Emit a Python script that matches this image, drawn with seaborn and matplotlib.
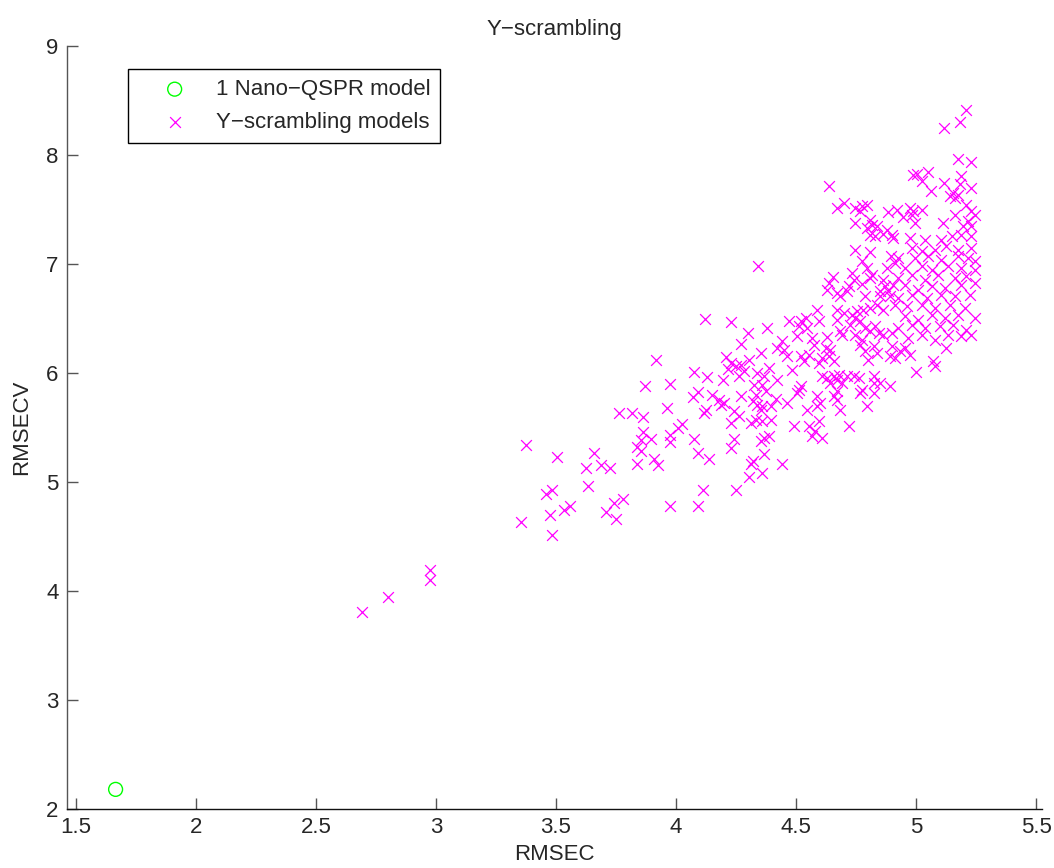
import matplotlib
matplotlib.use("Agg")
import matplotlib.pyplot as plt
import seaborn as sns
import pandas as pd

# ---- data (RMSEC, RMSECV) ----
model_rmsec = [1.665]
model_rmsecv = [2.18]

low_region = [
    (3.375, 5.335), (3.503, 5.228), (3.458, 4.886), (3.485, 4.925), (3.356, 4.636),
    (3.474, 4.700), (3.532, 4.742), (3.557, 4.782), (3.484, 4.517), (2.977, 4.192),
    (2.977, 4.101), (2.802, 3.942), (2.691, 3.805),
]

mid_region = [
    (4.121, 6.495), (4.230, 6.471), (3.916, 6.123), (4.074, 6.007), (4.130, 5.961),
    (3.872, 5.882), (3.974, 5.900), (4.195, 5.940), (4.208, 6.144), (4.229, 6.092),
    (4.215, 6.037), (4.249, 6.062), (4.070, 5.781), (4.090, 5.824), (4.148, 5.799),
    (4.180, 5.756), (4.187, 5.710), (4.201, 5.726), (3.761, 5.637), (3.817, 5.637),
    (3.864, 5.598), (3.963, 5.680), (4.118, 5.634), (4.125, 5.665), (4.242, 5.650),
    (4.228, 5.543), (4.024, 5.530), (4.010, 5.494), (3.861, 5.457), (3.897, 5.396),
    (3.855, 5.381), (3.974, 5.430), (3.974, 5.365), (3.836, 5.323), (3.853, 5.283),
    (4.074, 5.393), (4.242, 5.396), (4.231, 5.314), (4.093, 5.268), (4.139, 5.207),
    (3.659, 5.268), (3.623, 5.124), (3.687, 5.152), (3.724, 5.124), (3.836, 5.167),
    (3.908, 5.207), (3.927, 5.152), (3.632, 4.962), (4.304, 5.048), (4.111, 4.923),
    (4.251, 4.923), (3.742, 4.810), (3.779, 4.846), (3.708, 4.727), (3.752, 4.657),
    (3.974, 4.779), (4.093, 4.779),
]

upper_mid_region = [
    (4.638, 7.720), (4.342, 6.984), (4.671, 7.513), (4.701, 7.559), (4.747, 7.513),
    (4.775, 7.534), (4.795, 7.543), (4.768, 7.482), (4.885, 7.476), (4.747, 7.375),
    (4.809, 7.406), (4.816, 7.360), (4.795, 7.330), (4.837, 7.345), (4.809, 7.268),
    (4.830, 7.253), (4.864, 7.278), (4.878, 7.314), (4.899, 7.268), (4.906, 7.238),
    (4.747, 7.131), (4.809, 7.107), (4.775, 7.024), (4.895, 7.070), (4.913, 7.009),
    (4.795, 6.963), (4.878, 6.963), (4.816, 6.902), (4.809, 6.871), (4.733, 6.917),
    (4.740, 6.856), (4.654, 6.881), (4.636, 6.826), (4.630, 6.765), (4.671, 6.734),
    (4.685, 6.703), (4.719, 6.795), (4.712, 6.749), (4.775, 6.819), (4.864, 6.856),
    (4.871, 6.795), (4.851, 6.749), (4.885, 6.749), (4.906, 6.810), (4.788, 6.703),
    (4.851, 6.703), (4.892, 6.703),
]

central_region = [
    (4.588, 6.581), (4.671, 6.581), (4.699, 6.551), (4.733, 6.535), (4.754, 6.566),
    (4.781, 6.581), (4.809, 6.596), (4.837, 6.627), (4.864, 6.581), (4.471, 6.480),
    (4.519, 6.480), (4.540, 6.505), (4.512, 6.428), (4.547, 6.413), (4.595, 6.480),
    (4.378, 6.413), (4.298, 6.367), (4.671, 6.489), (4.685, 6.383), (4.726, 6.444),
    (4.747, 6.505), (4.768, 6.474), (4.505, 6.337), (4.567, 6.321), (4.574, 6.260),
    (4.630, 6.327), (4.623, 6.230), (4.692, 6.352), (4.747, 6.352), (4.775, 6.306),
    (4.788, 6.413), (4.809, 6.383), (4.830, 6.428), (4.844, 6.367), (4.864, 6.352),
    (4.768, 6.260), (4.788, 6.199), (4.823, 6.245), (4.837, 6.184), (4.802, 6.123),
    (4.899, 6.367), (4.899, 6.245), (4.892, 6.154), (4.913, 6.138), (4.270, 6.266),
    (4.443, 6.291), (4.422, 6.230), (4.450, 6.215), (4.464, 6.153), (4.353, 6.184),
    (4.305, 6.123), (4.270, 6.077), (4.284, 6.016), (4.263, 5.970), (4.519, 6.153),
    (4.554, 6.169), (4.533, 6.108), (4.484, 6.031), (4.595, 6.092), (4.609, 6.138),
    (4.637, 6.153), (4.657, 6.108), (4.643, 6.215), (4.388, 6.047), (4.339, 6.001),
    (4.367, 5.970), (4.326, 5.894), (4.360, 5.894), (4.374, 5.833), (4.333, 5.802),
    (4.422, 5.940), (4.512, 5.848), (4.519, 5.879), (4.505, 5.818), (4.609, 5.970),
    (4.630, 5.955), (4.643, 5.909), (4.657, 5.970), (4.678, 5.986), (4.671, 5.940),
    (4.692, 5.909), (4.712, 5.970), (4.740, 5.970), (4.761, 5.955), (4.775, 5.848),
    (4.768, 5.818), (4.823, 5.970), (4.823, 5.909), (4.851, 5.909), (4.823, 5.818),
    (4.892, 5.879), (4.671, 5.833), (4.657, 5.787), (4.671, 5.756), (4.588, 5.787),
    (4.602, 5.726), (4.588, 5.695), (4.270, 5.787), (4.319, 5.741), (4.339, 5.711),
    (4.360, 5.695), (4.353, 5.665), (4.395, 5.695), (4.415, 5.757), (4.464, 5.726),
    (4.547, 5.656), (4.685, 5.656), (4.795, 5.695), (4.263, 5.604), (4.312, 5.543),
    (4.333, 5.573), (4.360, 5.558), (4.395, 5.573), (4.491, 5.512), (4.554, 5.512),
    (4.595, 5.558), (4.581, 5.466), (4.609, 5.405), (4.567, 5.421), (4.719, 5.512),
    (4.367, 5.405), (4.388, 5.421), (4.353, 5.375), (4.367, 5.253), (4.319, 5.191),
    (4.312, 5.161), (4.443, 5.167), (4.360, 5.085),
]

top_right_region = [
    (5.210, 8.414), (5.182, 8.307), (5.117, 8.246), (5.173, 7.965), (5.228, 7.940),
    (4.989, 7.818), (5.003, 7.824), (5.051, 7.842), (5.023, 7.763), (5.062, 7.671),
    (5.117, 7.742), (5.189, 7.803), (5.182, 7.733), (5.228, 7.696), (5.155, 7.650),
    (5.175, 7.635), (5.141, 7.620), (5.162, 7.604), (5.210, 7.537), (5.231, 7.482),
    (5.244, 7.452), (5.162, 7.452), (4.920, 7.497), (4.975, 7.513), (4.989, 7.482),
    (4.982, 7.452), (5.023, 7.497), (4.947, 7.427), (4.996, 7.375), (5.113, 7.375),
    (5.217, 7.390), (5.196, 7.345), (5.231, 7.345),
]

dense_right_region = [
    (4.975, 7.238), (5.037, 7.223), (5.106, 7.223), (5.148, 7.253), (5.189, 7.268),
    (5.231, 7.253), (4.982, 7.146), (5.023, 7.116), (5.079, 7.131), (5.127, 7.161),
    (5.175, 7.131), (5.231, 7.146), (4.927, 7.055), (4.996, 7.055), (5.051, 7.070),
    (5.106, 7.039), (5.175, 7.070), (5.217, 7.055), (5.244, 7.024), (4.954, 6.963),
    (5.023, 6.978), (5.065, 6.948), (5.134, 6.978), (5.189, 6.963), (5.244, 6.948),
    (4.927, 6.871), (4.982, 6.902), (5.037, 6.856), (5.092, 6.902), (5.162, 6.871),
    (5.210, 6.887), (4.954, 6.810), (5.010, 6.764), (5.065, 6.795), (5.120, 6.780),
    (5.189, 6.810), (5.244, 6.826), (4.927, 6.688), (4.982, 6.719), (5.044, 6.688),
    (5.106, 6.719), (5.162, 6.703), (5.224, 6.719), (4.913, 6.627), (4.961, 6.612),
    (5.023, 6.627), (5.079, 6.597), (5.141, 6.627), (5.203, 6.597), (4.954, 6.520),
    (5.010, 6.490), (5.065, 6.535), (5.120, 6.505), (5.175, 6.535), (5.244, 6.505),
    (4.927, 6.413), (4.982, 6.444), (5.037, 6.413), (5.099, 6.429), (5.155, 6.444),
    (5.210, 6.398), (4.968, 6.322), (5.023, 6.352), (5.079, 6.306), (5.134, 6.352),
    (5.189, 6.337), (5.231, 6.352), (4.934, 6.199), (4.954, 6.230), (4.975, 6.169),
    (5.127, 6.230), (5.072, 6.107), (5.079, 6.062), (4.998, 6.007),
]

x_ticks = [1.5, 2, 2.5, 3, 3.5, 4, 4.5, 5, 5.5]
y_ticks = [2, 3, 4, 5, 6, 7, 8, 9]
x_tick_labels = ["1.5", "2", "2.5", "3", "3.5", "4", "4.5", "5", "5.5"]
y_tick_labels = ["2", "3", "4", "5", "6", "7", "8", "9"]

regions = [low_region, mid_region, upper_mid_region, central_region,
           top_right_region, dense_right_region]
scr = pd.DataFrame([p for r in regions for p in r], columns=["RMSEC", "RMSECV"])
mod = pd.DataFrame({"RMSEC": model_rmsec, "RMSECV": model_rmsecv})

# ---- style ----
sns.set_style("ticks")
plt.rcParams["font.family"] = ["Liberation Sans", "DejaVu Sans"]
FS = 16
plt.rcParams["font.size"] = FS

fig = plt.figure(figsize=(10.54, 8.68), dpi=100)
ax = fig.add_axes([67 / 1054, 1 - 809 / 868, (1042 - 67) / 1054, (809 - 46) / 868])

sns.scatterplot(data=mod, x="RMSEC", y="RMSECV", ax=ax, marker="o",
                s=100, facecolors="none", edgecolor="#00ff00", linewidth=1.0,
                label="1 Nano\u2212QSPR model", zorder=3)
sns.scatterplot(data=scr, x="RMSEC", y="RMSECV", ax=ax, marker="x",
                s=60, color="#ff00ff", linewidth=0.9,
                label="Y\u2212scrambling models", zorder=2)

ax.set_xlim(1.4625, 5.525)
ax.set_ylim(2, 9)
ax.set_xticks(x_ticks)
ax.set_xticklabels(x_tick_labels)
ax.set_yticks(y_ticks)
ax.set_yticklabels(y_tick_labels)
ax.tick_params(direction="in", length=8, width=1, color="#555555",
               labelsize=FS, pad=6)
for side in ["top", "right"]:
    ax.spines[side].set_visible(False)
ax.spines["left"].set_linewidth(1.0)
ax.spines["left"].set_color("#555555")
ax.spines["bottom"].set_linewidth(1.0)
ax.spines["bottom"].set_color("#111111")

ax.set_xlabel("RMSEC", fontsize=FS, labelpad=4)
ax.set_ylabel("RMSECV", fontsize=FS, labelpad=10)
ax.set_title("Y\u2212scrambling", fontsize=FS, pad=8)

leg = ax.legend(loc="upper left", bbox_to_anchor=(61 / 975, (809 - 69) / 763),
                borderaxespad=0, fancybox=False, framealpha=1, edgecolor="black",
                fontsize=FS, handletextpad=0.2, borderpad=0.45, labelspacing=0.55,
                handlelength=3.3, markerscale=1.0)
leg.get_frame().set_linewidth(1.0)

fig.savefig("out.png", dpi=100, facecolor="white")
